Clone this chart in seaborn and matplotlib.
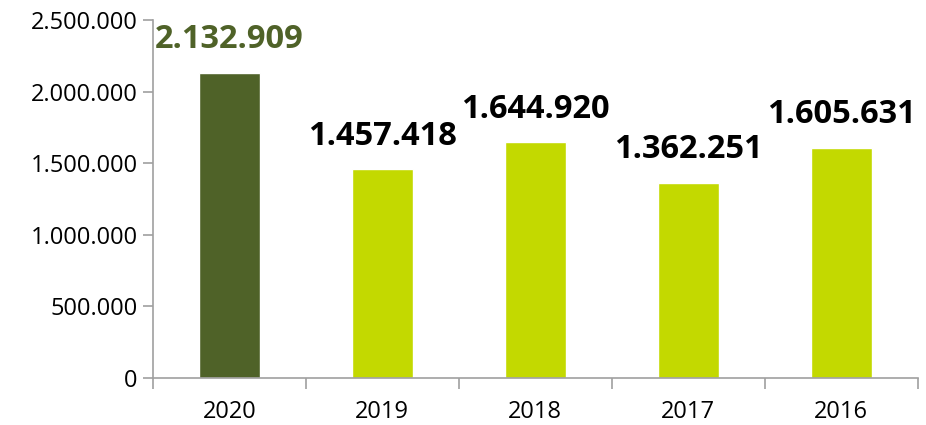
import matplotlib
matplotlib.use("Agg")
import matplotlib.pyplot as plt
import seaborn as sns
import pandas as pd
import numpy as np

years = ["2020", "2019", "2018", "2017", "2016"]
values = [2132909, 1457418, 1644920, 1362251, 1605631]
bar_colors = ["#4F6228", "#C3D900", "#C3D900", "#C3D900", "#C3D900"]
label_colors = ["#4F6228", "#000000", "#000000", "#000000", "#000000"]
yticks = [0, 500000, 1000000, 1500000, 2000000, 2500000]

def fmt(v):
    return f"{v:,}".replace(",", ".")

sns.set_style("white")
plt.rcParams["font.family"] = ["Open Sans", "DejaVu Sans"]

fig = plt.figure(figsize=(9.26, 4.25), dpi=100)
ax = fig.add_axes([0.165, 0.111, 0.826, 0.842])

df = pd.DataFrame({"year": years, "value": values})
sns.barplot(data=df, x="year", y="value", hue="year", palette=bar_colors,
            width=0.4, legend=False, ax=ax, saturation=1)

ax.set_ylim(0, 2500000)
ax.set_xlim(-0.5, len(years) - 0.5)
ax.set_yticks(yticks)
ax.set_yticklabels([fmt(t) for t in yticks], fontsize=17, color="black")
ax.set_xlabel("")
ax.set_ylabel("")

# x ticks at category boundaries
ax.set_xticks(np.arange(len(years)))
ax.set_xticklabels(years, fontsize=17, color="black")
ax.tick_params(axis="x", which="major", length=0, pad=16)
ax.set_xticks(np.arange(-0.5, len(years)), minor=True)
ax.tick_params(axis="x", which="minor", length=8, width=1.2, color="#A0A0A0", direction="out")
ax.tick_params(axis="y", length=7, width=1.2, color="#A0A0A0", direction="out", pad=4)
ax.yaxis.set_ticks_position("left")
ax.xaxis.set_ticks_position("bottom")

for s in ["top", "right"]:
    ax.spines[s].set_visible(False)
for s in ["left", "bottom"]:
    ax.spines[s].set_color("#A0A0A0")
    ax.spines[s].set_linewidth(1.2)

for i, (v, c) in enumerate(zip(values, label_colors)):
    ax.annotate(fmt(v), (i, v), xytext=(0, 12), textcoords="offset points",
                ha="center", va="bottom", fontsize=23.5, fontweight="bold", color=c)

fig.savefig("out.png", dpi=100)
